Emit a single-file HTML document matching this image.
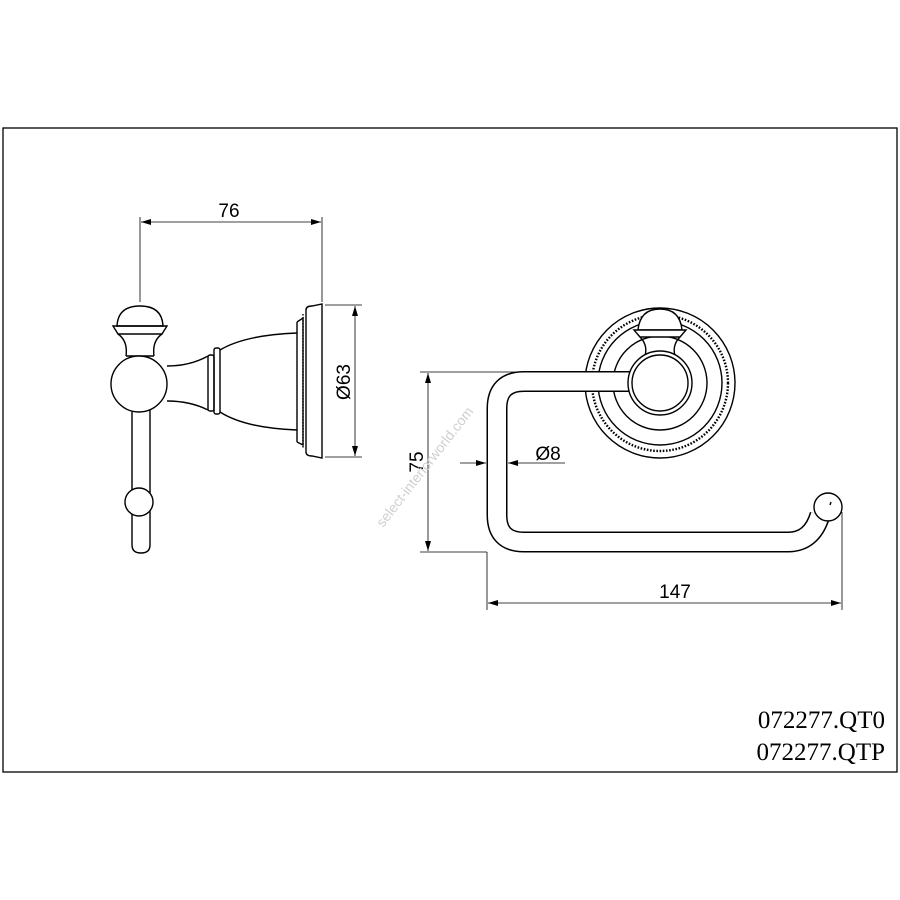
<!DOCTYPE html>
<html><head><style>body{margin:0;background:#fff}svg{display:block}</style></head><body>
<svg width="900" height="900" viewBox="0 0 900 900" xmlns="http://www.w3.org/2000/svg" font-family="Liberation Sans, sans-serif">
<defs>
<marker id="a" viewBox="0 0 10 6" refX="10" refY="3" markerWidth="14" markerHeight="6" markerUnits="userSpaceOnUse" orient="auto-start-reverse"><path d="M0,0L10,3L0,6z" fill="#000"/></marker>
</defs>
<rect x="3" y="128" width="894" height="644" fill="none" stroke="#000" stroke-width="1.3"/>
<g fill="none" stroke="#000" stroke-width="1.4">
<!-- left view -->
<path d="M117,326 Q118,306 140,306 Q162,306 163,326 Z"/>
<path d="M113,326 H167 L162,334 H118 Z"/>
<path d="M118,334 Q128,341 126,356 M162,334 Q152,341 154,356"/>
<path d="M126,356 H154"/>
<path d="M132,410 V545 Q132,553 141,553 Q150,553 150,545 V410"/>
<circle cx="139" cy="502" r="14" fill="#fff"/>
<circle cx="139" cy="384" r="28" fill="#fff"/>
<path d="M167,366 Q190,366 208,356 M167,401 Q190,401 208,410"/>
<rect x="208" y="355" width="6" height="56" rx="2"/>
<rect x="214" y="348" width="6" height="66" rx="2"/>
<path d="M220,350 Q245,335 297,333 M220,412 Q245,428 297,430"/>
<path d="M297,322 V442 M297,322 L303,318 V445 L297,442"/>
<path d="M303,314 V449" stroke-dasharray="1.5 1.5"/>
<path d="M306,310 Q306,306 312,306 L322,304 V458 L312,456 Q306,456 306,452 Z"/>
</g>
<g stroke="#000" stroke-width="0.8" fill="none">
<path d="M140,217 V302 M322,217 V302"/>
<path d="M141,222 H321" marker-start="url(#a)" marker-end="url(#a)"/>
<path d="M325,305 H362 M325,457 H362"/>
<path d="M355,306 V456" marker-start="url(#a)" marker-end="url(#a)"/>
<path d="M420,372 H520 M420,552 H487"/>
<path d="M428,373 V551" marker-start="url(#a)" marker-end="url(#a)"/>
<path d="M460,463 H486" marker-end="url(#a)"/>
<path d="M565,463 H508" marker-end="url(#a)"/>
<path d="M487,552 V610 M842,512 V610"/>
<path d="M488,603 H841" marker-start="url(#a)" marker-end="url(#a)"/>
</g>
<g font-size="19" fill="#000">
<text x="229" y="217" text-anchor="middle">76</text>
<text transform="translate(350,382) rotate(-90)" text-anchor="middle">Ø63</text>
<text transform="translate(423,462) rotate(-90)" text-anchor="middle">75</text>
<text x="548" y="460" text-anchor="middle">Ø8</text>
<text x="675" y="598" text-anchor="middle">147</text>
</g>
<text transform="translate(383,528) rotate(-52)" font-size="14" fill="#d0d0d0">select-interiorworld.com</text>
<!-- right view -->
<g fill="none" stroke="#000" stroke-width="1.4">
<circle cx="660" cy="383" r="75"/>
<circle cx="660" cy="383" r="68" stroke-width="2.4" stroke-dasharray="1.6 1.6"/>
<circle cx="660" cy="383" r="62"/>
<circle cx="660" cy="383" r="47"/>
<path d="M638,330 Q640,309 660,309 Q680,309 682,330 Z" fill="#fff"/>
<path d="M634,330 H686 L680,337 H640 Z" fill="#fff"/>
<path d="M640,337 Q648,345 645,356 M680,337 Q672,345 675,356"/>
</g>
<path d="M632,381.5 H524 Q497,381.5 497,408.5 V515 Q497,542 524,542 H788 Q812,542 820,515" fill="none" stroke="#000" stroke-width="21"/>
<path d="M634,381.5 H524 Q497,381.5 497,408.5 V515 Q497,542 524,542 H788 Q812,542 820,515" fill="none" stroke="#fff" stroke-width="18"/>
<g fill="none" stroke="#000" stroke-width="1.4">
<circle cx="660" cy="383" r="32" fill="#fff"/>
<circle cx="660" cy="383" r="28"/>
<circle cx="828" cy="507" r="14" fill="#fff"/>
<path d="M831,502 L830,505"/>
</g>
<g font-family="Liberation Serif, serif" font-size="25" fill="#000" text-anchor="end">
<text x="885" y="728">072277.QT0</text>
<text x="885" y="760">072277.QTP</text>
</g>
</svg>
</body></html>
